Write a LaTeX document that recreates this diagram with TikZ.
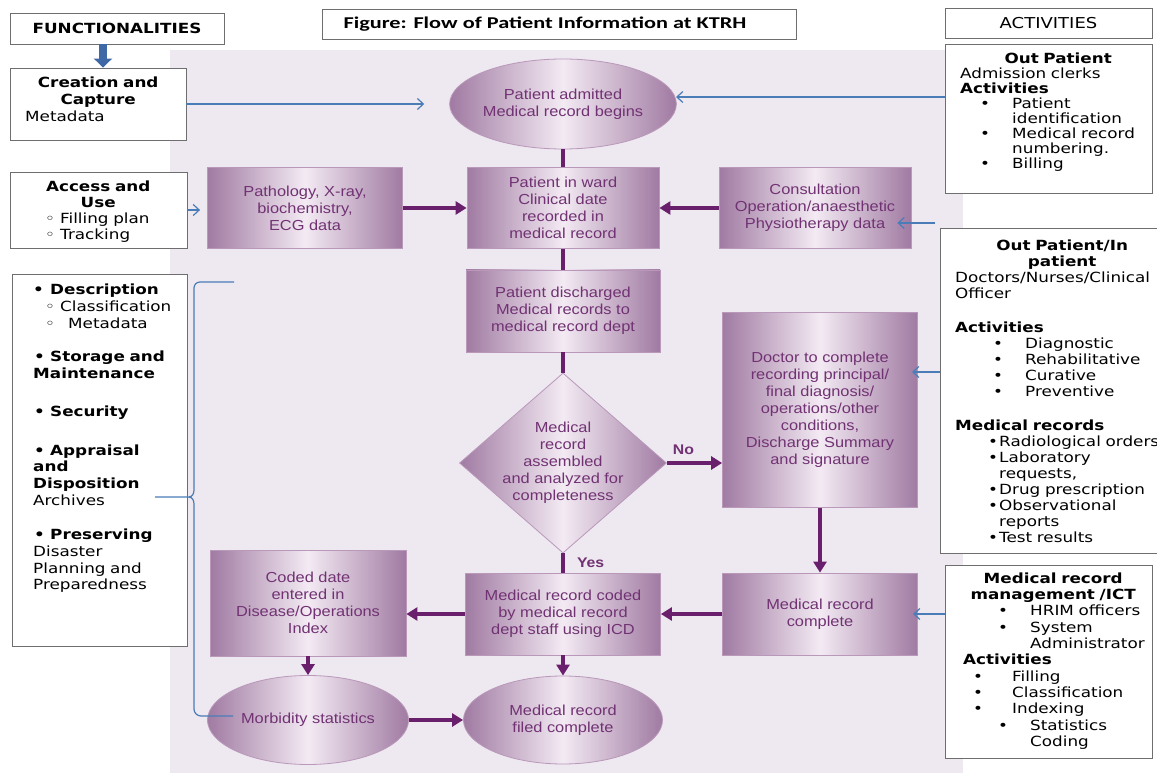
\documentclass[tikz,border=0pt]{standalone}
\usepackage{fontspec}
\setmainfont{DejaVu Sans}[FakeStretch=1.2]
\newfontfamily\flowfont{Liberation Sans}[FakeStretch=1.13]
\newfontfamily\titlefont{Carlito}[FakeStretch=1.35]
\usetikzlibrary{shapes.geometric,arrows.meta,calc}
\definecolor{panel}{HTML}{EEE8F0}
\definecolor{pedge}{HTML}{A07AA2}
\definecolor{pmid}{HTML}{F3EAF3}
\definecolor{pborder}{HTML}{B998BA}
\definecolor{ptext}{HTML}{713273}
\definecolor{parrow}{HTML}{6A1F6C}
\definecolor{blueln}{HTML}{4A7DB8}
\definecolor{bthick}{HTML}{3F68A6}
\definecolor{boxline}{HTML}{6E6E6E}
\newcommand\mybul[3]{\hspace*{#1}\makebox[#2][l]{•}#3}
\newcommand\mycirc[3]{\hspace*{#1}\makebox[#2][l]{◦}#3}
\begin{document}
\begin{tikzpicture}[x=1pt,y=-1pt,
  wbox/.style={draw=boxline, line width=0.9pt, fill=white, rectangle, inner sep=0pt},
  txt/.style={inner sep=0pt, anchor=north west, align=left},
  pshade/.style={left color=pedge, right color=pedge, middle color=pmid, draw=pborder, line width=0.8pt, text=ptext, font=\flowfont\fontsize{14.5}{17}\selectfont, align=center, inner sep=0pt},
  proc/.style={pshade, rectangle},
  term/.style={pshade, ellipse},
  dec/.style={pshade, diamond, inner sep=-4pt},
  flowline/.style={draw=parrow, line width=4pt},
  flowarr/.style={flowline, -{Triangle[length=11pt,width=13pt]}},
  bluepath/.style={draw=blueln, line width=1.2pt},
  bluearr/.style={bluepath, -{Straight Barb[length=6pt,width=11pt]}},
  lbl/.style={font=\flowfont\bfseries\fontsize{14}{16}\selectfont, text=ptext, inner sep=0pt},
]
\useasboundingbox (0,0) rectangle (1157,775);
\fill[white] (0,0) rectangle (1157,775);
\fill[panel] (170,50) rectangle (963,773);

% headers
\node[wbox, minimum width=214, minimum height=31, font=\bfseries\fontsize{14}{16}\selectfont] (func) at (117,28.5) {FUNCTIONALITIES};
\node[wbox, minimum width=474, minimum height=30] (title) at (559,24) {};
\node[inner sep=0pt, font=\titlefont\bfseries\fontsize{16.5}{18}\selectfont] (titlet) at (545,24) {Figure: Flow of Patient Information at KTRH};
\node[wbox, minimum width=207, minimum height=30, font=\fontsize{15}{17}\selectfont] (acth) at (1048.5,23) {ACTIVITIES};

% left boxes
\node[wbox, minimum width=176, minimum height=72] (create) at (98,104) {};
\node[txt, text width=150pt, font=\fontsize{14}{17}\selectfont] (createt) at (25,77) {\makebox[146pt][c]{\bfseries Creation and}\\ \makebox[146pt][c]{\bfseries Capture}\\ Metadata};

\node[wbox, minimum width=177, minimum height=76] (access) at (98.5,210) {};
\node[txt, text width=150pt, font=\fontsize{14}{16}\selectfont] (accesst) at (25,181) {\makebox[146pt][c]{\bfseries Access and}\\ \makebox[146pt][c]{\bfseries Use}\\ \mycirc{20pt}{15pt}{Filling plan}\\ \mycirc{20pt}{15pt}{Tracking}};

\node[wbox, minimum width=175, minimum height=372] (funcs) at (99.5,460) {};
\node[txt, text width=150pt, font=\fontsize{14}{16.7}\selectfont] (funcst) at (33,284) {%
\textbf{\mybul{0pt}{17pt}{Description}}\\
\mycirc{12pt}{15pt}{Classification}\\
\mycirc{12pt}{23pt}{Metadata}\\[17pt]
\textbf{\mybul{1pt}{16pt}{Storage and}}\\
\textbf{Maintenance}\\[21pt]
\textbf{\mybul{1pt}{16pt}{Security}}\\[22pt]
\textbf{\mybul{1pt}{16pt}{Appraisal}}\\
\textbf{and}\\
\textbf{Disposition}\\
Archives\\[18pt]
\textbf{\mybul{1pt}{16pt}{Preserving}}\\
Disaster\\
Planning and\\
Preparedness};

% right boxes
\node[wbox, minimum width=207, minimum height=149] (outp) at (1048.5,118.5) {};
\node[txt, text width=200pt, font=\fontsize{14}{15}\selectfont] (outpt) at (960,52.5) {\makebox[196pt][c]{\bfseries Out Patient}\\ Admission clerks\\ \textbf{Activities}\\ \mybul{20pt}{32pt}{Patient}\\ \hspace*{52pt}identification\\ \mybul{20pt}{32pt}{Medical record}\\ \hspace*{52pt}numbering.\\ \mybul{20pt}{32pt}{Billing}};

\node[wbox, minimum width=222, minimum height=325] (inp) at (1051,390.5) {};
\node[txt, text width=216pt, font=\fontsize{14}{16}\selectfont] (inpt) at (955,239.5) {\makebox[214pt][c]{\bfseries Out Patient/In}\\ \makebox[214pt][c]{\bfseries patient}\\ Doctors/Nurses/Clinical\\ Officer\\[18pt] \textbf{Activities}\\ \mybul{38pt}{32pt}{Diagnostic}\\ \mybul{38pt}{32pt}{Rehabilitative}\\ \mybul{38pt}{32pt}{Curative}\\ \mybul{38pt}{32pt}{Preventive}\\[18pt] \textbf{Medical records}\\ \mybul{33pt}{11pt}{Radiological orders}\\ \mybul{33pt}{11pt}{Laboratory}\\ \hspace*{44pt}requests,\\ \mybul{33pt}{11pt}{Drug prescription}\\ \mybul{33pt}{11pt}{Observational}\\ \hspace*{44pt}reports\\ \mybul{33pt}{11pt}{Test results}};

\node[wbox, minimum width=207, minimum height=193] (mrm) at (1048.5,661.5) {};
\node[txt, text width=200pt, font=\fontsize{14}{16.3}\selectfont] (mrmt) at (960,572.5) {\makebox[186pt][c]{\bfseries Medical record}\\ \makebox[186pt][c]{\bfseries management /ICT}\\ \mybul{38pt}{32pt}{HRIM officers}\\ \mybul{38pt}{32pt}{System}\\ \hspace*{70pt}Administrator\\ \hspace*{3pt}\textbf{Activities}\\ \mybul{13pt}{39pt}{Filling}\\ \mybul{13pt}{39pt}{Classification}\\ \mybul{13pt}{39pt}{Indexing}\\ \mybul{38pt}{32pt}{Statistics}\\ \hspace*{70pt}Coding};

% flowchart
\node[term, minimum width=203, minimum height=90] (admit) at (563,104) {Patient admitted\\Medical record begins};
\node[proc, minimum width=192, minimum height=81] (ward) at (563,208) {Patient in ward\\Clinical date\\recorded in\\medical record};
\node[proc, minimum width=195, minimum height=81] (path) at (305,208) {Pathology, X-ray,\\biochemistry,\\ECG data};
\node[proc, minimum width=192, minimum height=81] (consult) at (815,208) {Consultation\\Operation/anaesthetic\\Physiotherapy data};
\node[proc, minimum width=194, minimum height=82] (disch) at (563,311) {Patient discharged\\Medical records to\\medical record dept};
\node[dec, minimum width=207, minimum height=180, aspect=1.15] (diam) at (563,463) {Medical\\record\\assembled\\and analyzed for\\completeness};
\node[proc, minimum width=195, minimum height=195] (doctor) at (820,410) {Doctor to complete\\recording principal/\\final diagnosis/\\operations/other\\conditions,\\Discharge Summary\\and signature};
\node[proc, minimum width=195, minimum height=82] (complete) at (820,614) {Medical record\\complete};
\node[proc, minimum width=195, minimum height=82] (icd) at (563,614) {Medical record coded\\by medical record\\dept staff using ICD};
\node[proc, minimum width=196, minimum height=106] (coded) at (308,603) {Coded date\\entered in\\Disease/Operations\\Index};
\node[term, minimum width=201, minimum height=89] (morb) at (308,720) {Morbidity statistics};
\node[term, minimum width=199, minimum height=88] (filed) at (563,720) {Medical record\\filed complete};

\draw[flowline] (admit.south) -- (ward.north);
\draw[flowarr] (path.east) -- (ward.west);
\draw[flowarr] (consult.west) -- (ward.east);
\draw[flowline] (ward.south) -- (disch.north);
\draw[flowline] (disch.south) -- (diam.north);
\draw[flowarr] (diam.east) -- (diam.east -| doctor.west) node[pos=0.3, above=6pt, lbl] {No};
\draw[flowline] (diam.south) -- (icd.north) node[midway, right=12pt, lbl] {Yes};
\draw[flowarr] (doctor.south) -- (complete.north);
\draw[flowarr] (complete.west) -- (icd.east);
\draw[flowarr] (icd.west) -- (icd.west -| coded.east);
\draw[flowarr] (coded.south) -- (morb.north);
\draw[flowarr] (icd.south) -- (filed.north);
\draw[flowarr] (morb.east) -- (filed.west);

% blue connectors
\coordinate (fa) at (103,0);
\draw[draw=bthick, line width=7.5pt, -{Triangle[length=9pt,width=18pt]}] (func.south -| fa) -- (create.north -| fa);
\draw[bluearr] (create.east) -- ([xshift=-25pt]admit.west);
\coordinate (opa) at (676,97);
\draw[bluearr] (outp.west |- opa) -- (opa);
\draw[bluearr, shorten >=7pt] (access.east) -- (access.east -| path.west);
\coordinate (csa) at (935,223);
\coordinate (cst) at ([xshift=-14pt]consult.east |- csa);
\draw[bluearr] (csa) -- (cst);
\coordinate (dra) at (912,372);
\draw[bluearr] (inp.west |- dra) -- (dra);
\coordinate (cpa) at (913,614);
\draw[bluearr] (mrm.west |- cpa) -- (cpa);

\coordinate (brtop) at (234,282);
\coordinate (brarch) at (155,497);
\coordinate (brmorb) at (233,716);
\draw[bluepath] (brtop) -- (200,282) to[out=180,in=90] (194,288) -- (194,490) to[out=-90,in=0] (189,497) -- (brarch);
\draw[bluepath] (189,497) to[out=0,in=90] (194,504) -- (194,709) to[out=-90,in=180] (201,716) -- (brmorb);
\end{tikzpicture}
\end{document}
